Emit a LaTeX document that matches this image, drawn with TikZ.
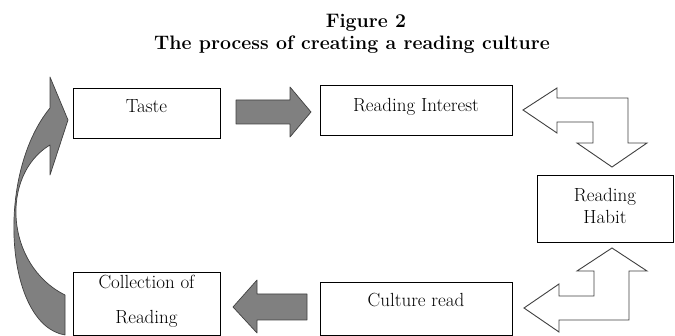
\documentclass[tikz,border=0pt]{standalone}
\usepackage{tikz}

\begin{document}
\begin{tikzpicture}[x=1pt,y=-1pt,
  box/.style={draw, line width=0.8pt, align=center, inner sep=2pt,
    font=\fontsize{19}{22}\selectfont},
  darkarrow/.style={draw=black!75, fill=black!50, line width=0.7pt, line join=round},
  openarrow/.style={draw=black!75, fill=white, line width=0.9pt, line join=miter},
  heading/.style={font=\bfseries\fontsize{19.5}{22}\selectfont}]
  \useasboundingbox (0,0) rectangle (675,336);
  \node[heading] (fig) at (366,23) {Figure 2};
  \node[heading] (title) at (352,45) {The process of creating a reading culture};
  \node[box, minimum width=147pt, minimum height=50pt, text depth=13pt] (taste) at (146.5,113) {Taste};
  \node[box, minimum width=192pt, minimum height=50pt, text depth=11pt] (interest) at (416,110) {Reading Interest};
  \node[box, minimum width=136pt, minimum height=67pt, text depth=6pt] (habit) at (605,208.5) {Reading\\Habit};
  \node[box, minimum width=192pt, minimum height=53pt, text depth=18pt] (culture) at (416,308.5) {Culture read};
  \node[box, minimum width=147pt, minimum height=62pt, text depth=10pt] (collection) at (146.5,304) {Collection of\\[13pt]Reading};
  \draw[darkarrow] (236,100) -- (290,100) -- (290,87) -- (311,112) -- (290,137) -- (290,124)
    -- (236,124) -- cycle;
  \draw[darkarrow] (307,294) -- (257,294) -- (257,280) -- (233,307) -- (257,333) -- (257,320)
    -- (307,320) -- cycle;
  \draw[openarrow] (523,110) -- (557,88) -- (557,98) -- (628,98) -- (628,143) -- (647,143)
    -- (612,167) -- (577,143) -- (593,143) -- (593,122) -- (557,122) -- (557,133) -- cycle;
  \draw[openarrow] (524,308) -- (559,284) -- (559,296) -- (594,296) -- (594,271) -- (577,271)
    -- (612,248) -- (647,271) -- (629,271) -- (629,320) -- (559,320) -- (559,332) -- cycle;
  \draw[darkarrow] (65,335) .. controls (5,325) and (-5,175) .. (50,108) -- (50,77) -- (68,120)
    -- (50,175) -- (50,145) .. controls (0,175) and (5,265) .. (65,295) -- cycle;
\end{tikzpicture}
\end{document}
